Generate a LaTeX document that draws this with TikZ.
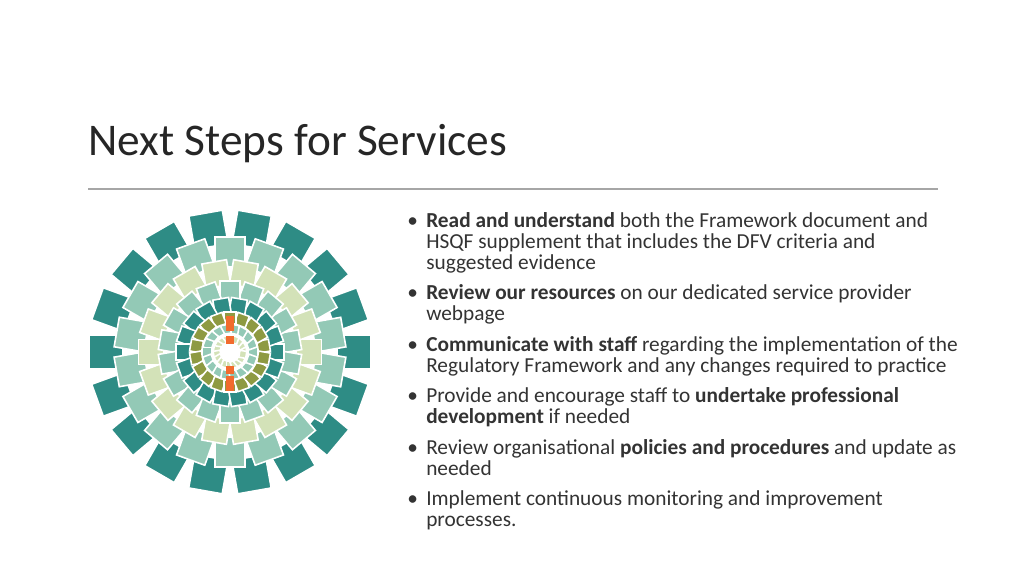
\documentclass[tikz,border=0pt]{standalone}
\usepackage{fontspec}
\setmainfont{Carlito}
\usetikzlibrary{calc}
\definecolor{tealdark}{HTML}{2E8C85}
\definecolor{tealmid}{HTML}{93C9B6}
\definecolor{paleleaf}{HTML}{D3E2B8}
\definecolor{olive}{HTML}{8E9A42}
\definecolor{flame}{HTML}{F26B2E}
\definecolor{rulegray}{HTML}{A6A6A6}
\begin{document}
\begin{tikzpicture}[x=0.75pt,y=-0.75pt,
tile/.style={draw=white, line width=1.2pt},
bullettext/.style={anchor=base west, text width=400pt, align=flush left, inner sep=0pt,
  font=\fontsize{16}{15.75}\selectfont, text=black!80},
dot/.style={anchor=base west, inner sep=0pt, font=\fontsize{16}{15.75}\selectfont, text=black!80},
]
\useasboundingbox (0,0) rectangle (1024,576);
%Title
\node[anchor=base west, inner sep=0pt, font=\fontsize{34}{40}\selectfont, text=black!85] (title) at (88,155) {Next Steps for Services};
\coordinate (ruleL) at (88,189);
\coordinate (ruleR) at (938,189);
\draw[rulegray, line width=0.8pt] (ruleL) -- (ruleR);
%Flower
\coordinate (hub) at (230,352);
\foreach \r/\s/\c/\o in {124/34/tealdark/0, 100/30/tealmid/10, 79/25/paleleaf/0, 61/20/tealmid/10,
                         46/16/tealdark/0, 34/12/olive/10, 23/9/tealmid/0, 13/7/paleleaf/10}{
  \foreach \a in {0,20,...,340}{
    \pgfmathsetmacro\ang{\a+\o}
    \fill[tile,fill=\c,rotate around={\ang:(hub)}]
      ($(hub)+(\r,0)$) ++(-\s/2,-\s/2) rectangle ++(\s,\s);
  }
}
%Centre sparks
\foreach \dy in {-32,-25,-12,18,28,35}{
  \fill[flame] ($(hub)+(0,\dy)$) ++(-4,-4) rectangle ++(8,8);
}
%Bullets
\node[bullettext] (b1) at (426,227) {\textbf{Read and understand} both the Framework document and HSQF supplement that includes the DFV criteria and suggested evidence};
\node[bullettext] (b2) at (426,299) {\textbf{Review our resources} on our dedicated service provider webpage};
\node[bullettext] (b3) at (426,351) {\textbf{Communicate with staff} regarding the implementation of the Regulatory Framework and any changes required to practice};
\node[bullettext] (b4) at (426,402) {Provide and encourage staff to \textbf{undertake professional development} if needed};
\node[bullettext] (b5) at (426,454) {Review organisational \textbf{policies and procedures} and update as needed};
\node[bullettext] (b6) at (426,505) {Implement continuous monitoring and improvement processes.};
\foreach \y in {227,299,351,402,454,505}{
  \node[dot] at (407,\y) {•};
}
\end{tikzpicture}
\end{document}
